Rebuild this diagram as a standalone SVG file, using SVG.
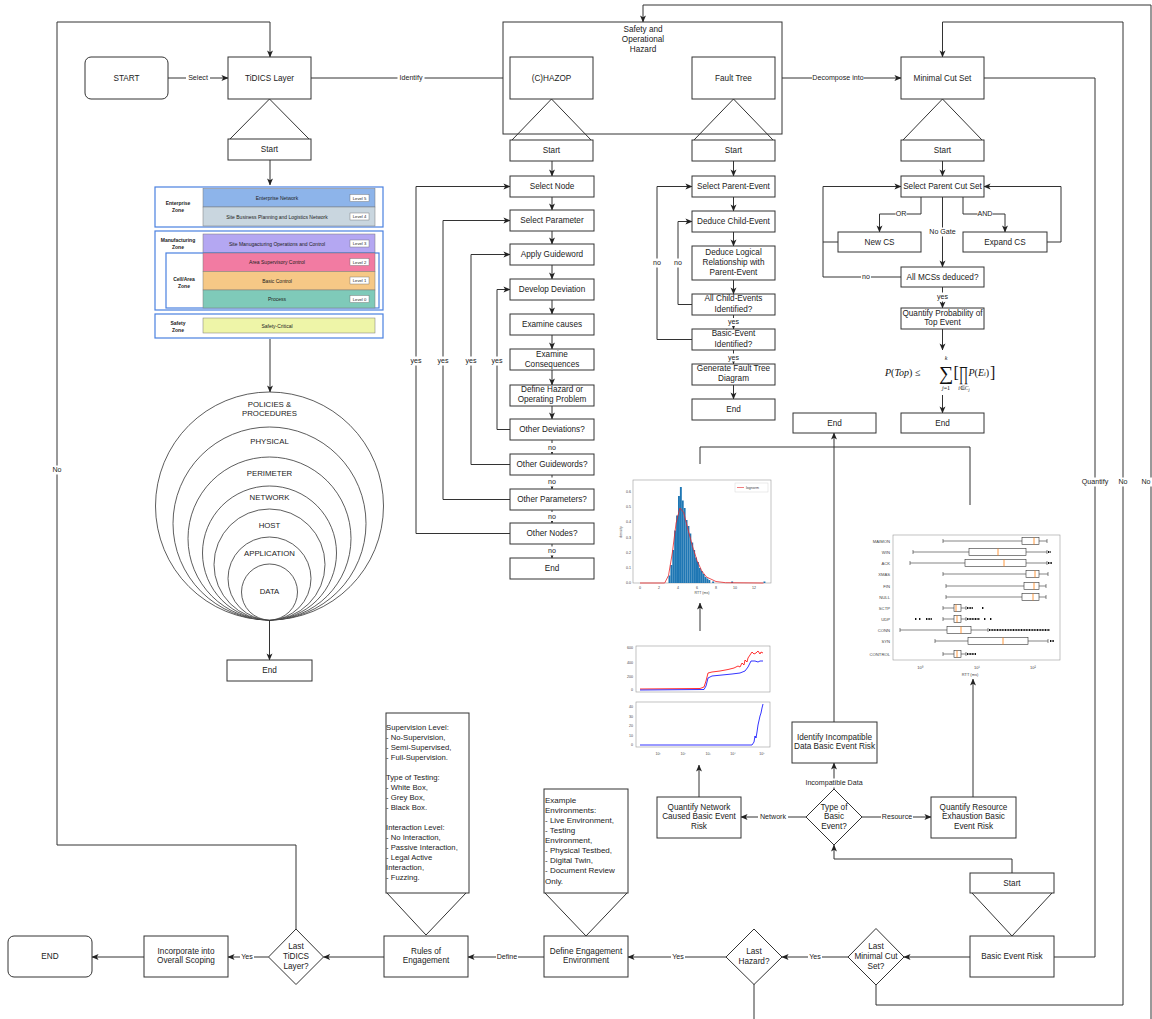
<svg xmlns="http://www.w3.org/2000/svg" width="1152" height="1019" viewBox="0 0 1152 1019">
<defs>
<style>
.b{fill:#fff;stroke:#333;stroke-width:1}
.c{fill:none;stroke:#333;stroke-width:1}
.a{marker-end:url(#ah)}
.t{font-family:"Liberation Sans",Arial,sans-serif;font-size:8.2px;fill:#222;text-anchor:middle;dominant-baseline:central}
.l{font-size:7.1px}
.bg{fill:#fff}
.sm{font-family:"Liberation Sans",Arial,sans-serif;fill:#222;dominant-baseline:central}
.zone{fill:#fff;stroke:#4a80e0;stroke-width:1.2}
.bar{stroke:#777;stroke-width:0.5}
.zl{font-family:"Liberation Sans",Arial,sans-serif;font-size:5px;font-weight:bold;fill:#222;text-anchor:middle;dominant-baseline:central}
.zt{font-family:"Liberation Sans",Arial,sans-serif;font-size:5px;fill:#222;text-anchor:middle;dominant-baseline:central}
.lv{fill:#fff;stroke:#666;stroke-width:0.4}
.ring{fill:#fff;stroke:#333;stroke-width:0.8}
.ax{fill:#fff;stroke:#999;stroke-width:0.6}
.tk{font-family:"Liberation Sans",Arial,sans-serif;font-size:3.6px;fill:#444;dominant-baseline:central}
.hb{fill:#1f77b4}
.wh{stroke:#333;stroke-width:0.6;fill:none}
.bx{fill:#fff;stroke:#333;stroke-width:0.6}
.md{stroke:#ff7f0e;stroke-width:0.8}
.fl{stroke:#111;stroke-width:2;stroke-dasharray:1 0.6}
.mth{font-family:"Liberation Serif","Times New Roman",serif;fill:#111;dominant-baseline:central}
</style>
<marker id="ah" viewBox="0 0 8 8" refX="7.5" refY="4" markerWidth="7" markerHeight="7" markerUnits="userSpaceOnUse" orient="auto">
<path d="M0,0.6 L8,4 L0,7.4 L2,4 z" fill="#222"/>
</marker>
</defs>
<rect width="1152" height="1019" fill="#fff"/>

<!-- connectors -->
<g id="connectors">
<polyline class="c a" points="296,929 296,845 57,845 57,22 270,22 270,57"/>
<line class="c a" x1="168" y1="78" x2="228" y2="78"/>
<line class="c a" x1="311" y1="78" x2="510" y2="78"/>
<line class="c a" x1="270" y1="160" x2="270" y2="185"/>
<line class="c a" x1="270" y1="339" x2="270" y2="392"/>
<line class="c a" x1="269.5" y1="620" x2="269.5" y2="660"/>
<line class="c a" x1="593" y1="78" x2="692" y2="78"/>
<line class="c a" x1="775" y1="78" x2="901" y2="78"/>
<polyline class="c a" points="754,984 754,1030 1151,1030 1151,5 643,5 643,22"/>
<polyline class="c a" points="876,985 876,1005 1123,1005 1123,22 942.5,22 942.5,57"/>
<polyline class="c" points="984,78 1095,78 1095,957 1054,957"/>

<!-- hazop chain -->
<line class="c a" x1="552" y1="161" x2="552" y2="176"/>
<line class="c a" x1="552" y1="197" x2="552" y2="210"/>
<line class="c a" x1="552" y1="231" x2="552" y2="244"/>
<line class="c a" x1="552" y1="265" x2="552" y2="279"/>
<line class="c a" x1="552" y1="300" x2="552" y2="314"/>
<line class="c a" x1="552" y1="335" x2="552" y2="349"/>
<line class="c a" x1="552" y1="370" x2="552" y2="385"/>
<line class="c a" x1="552" y1="406" x2="552" y2="419"/>
<line class="c a" x1="552" y1="440" x2="552" y2="454"/>
<line class="c a" x1="552" y1="475" x2="552" y2="489"/>
<line class="c a" x1="552" y1="510" x2="552" y2="523"/>
<line class="c a" x1="552" y1="544" x2="552" y2="558"/>
<polyline class="c a" points="510,429.5 497,429.5 497,289.5 510,289.5"/>
<polyline class="c a" points="510,464.5 471,464.5 471,254.5 510,254.5"/>
<polyline class="c a" points="510,499.5 443,499.5 443,220.5 510,220.5"/>
<polyline class="c a" points="510,533.5 416,533.5 416,186.5 510,186.5"/>

<!-- fault tree chain -->
<line class="c a" x1="733.5" y1="161" x2="733.5" y2="176"/>
<line class="c a" x1="733.5" y1="197" x2="733.5" y2="211"/>
<line class="c a" x1="733.5" y1="232" x2="733.5" y2="246"/>
<line class="c a" x1="733.5" y1="280" x2="733.5" y2="294"/>
<line class="c a" x1="733.5" y1="315" x2="733.5" y2="329"/>
<line class="c a" x1="733.5" y1="350" x2="733.5" y2="364"/>
<line class="c a" x1="733.5" y1="385" x2="733.5" y2="399"/>
<polyline class="c a" points="692,304.5 678,304.5 678,221.5 692,221.5"/>
<polyline class="c a" points="692,339.5 657,339.5 657,186.5 692,186.5"/>

<!-- minimal cut set chain -->
<line class="c a" x1="942.5" y1="161" x2="942.5" y2="176"/>
<polyline class="c a" points="921,197 921,214 879.5,214 879.5,232"/>
<polyline class="c a" points="963,197 963,214 1005,214 1005,232"/>
<line class="c a" x1="942.5" y1="197" x2="942.5" y2="267"/>
<polyline class="c a" points="1047,242 1061,242 1061,186.5 984,186.5"/>
<polyline class="c" points="838,242 823,242"/>
<polyline class="c a" points="901,277 823,277 823,186.5 901,186.5"/>
<line class="c a" x1="942.5" y1="287" x2="942.5" y2="308"/>
<line class="c a" x1="942.5" y1="329" x2="942.5" y2="350"/>
<line class="c a" x1="942.5" y1="395" x2="942.5" y2="413"/>

<!-- result figures to end -->
<polyline class="c" points="700,464 700,447 970,447 970,505"/>
<line class="c a" x1="834" y1="722" x2="834" y2="433"/>
<line class="c a" x1="700" y1="631" x2="700" y2="603"/>
<line class="c a" x1="699" y1="797" x2="699" y2="765"/>
<line class="c a" x1="973" y1="797" x2="973" y2="679"/>

<!-- basic event risk -->
<line class="c a" x1="834" y1="789" x2="834" y2="763"/>
<line class="c a" x1="806" y1="817" x2="741" y2="817"/>
<line class="c a" x1="862" y1="817" x2="931" y2="817"/>
<polyline class="c a" points="1012,873 1012,859 834,859 834,845"/>
<line class="c a" x1="970" y1="957" x2="904" y2="957"/>
<line class="c a" x1="848" y1="957" x2="782" y2="957"/>
<line class="c a" x1="726" y1="957" x2="628" y2="957"/>
<line class="c a" x1="544" y1="957" x2="468" y2="957"/>
<line class="c a" x1="384" y1="957" x2="323.5" y2="957"/>
<line class="c a" x1="268.5" y1="957" x2="228" y2="957"/>
<line class="c a" x1="144" y1="957" x2="92" y2="957"/>

<!-- connector labels on white backing -->
<g>
<rect class="bg" x="51" y="465.5" width="12" height="9"/>
<rect class="bg" x="186" y="73.5" width="24" height="9"/>
<rect class="bg" x="397.5" y="73.5" width="27" height="9"/>
<rect class="bg" x="628.5" y="73.5" width="27" height="9"/>
<rect class="bg" x="812" y="73.5" width="52" height="9"/>
<rect class="bg" x="1140" y="477.5" width="12" height="9"/>
<rect class="bg" x="1117" y="477.5" width="12" height="9"/>
<rect class="bg" x="1080" y="477.5" width="30" height="9"/>
<rect class="bg" x="490.5" y="356.5" width="13" height="9"/>
<rect class="bg" x="464.5" y="356.5" width="13" height="9"/>
<rect class="bg" x="436.5" y="356.5" width="13" height="9"/>
<rect class="bg" x="409.5" y="356.5" width="13" height="9"/>
<rect class="bg" x="547" y="443" width="10" height="9"/>
<rect class="bg" x="547" y="477.5" width="10" height="9"/>
<rect class="bg" x="547" y="512" width="10" height="9"/>
<rect class="bg" x="547" y="546.5" width="10" height="9"/>
<rect class="bg" x="673" y="258.5" width="10" height="9"/>
<rect class="bg" x="652" y="258.5" width="10" height="9"/>
<rect class="bg" x="727" y="318" width="13" height="8"/>
<rect class="bg" x="727" y="353.5" width="13" height="8"/>
<rect class="bg" x="895.5" y="209.5" width="11" height="9"/>
<rect class="bg" x="977.5" y="209.5" width="15" height="9"/>
<rect class="bg" x="928.5" y="227.5" width="28" height="9"/>
<rect class="bg" x="861" y="272.5" width="10" height="9"/>
<rect class="bg" x="936" y="292.5" width="13" height="9"/>
<rect class="bg" x="804" y="778.5" width="60" height="9"/>
<rect class="bg" x="758" y="812.5" width="30" height="9"/>
<rect class="bg" x="881" y="812.5" width="32" height="9"/>
<rect class="bg" x="808" y="952.5" width="14" height="9"/>
<rect class="bg" x="671" y="952.5" width="14" height="9"/>
<rect class="bg" x="496" y="952.5" width="22" height="9"/>
<rect class="bg" x="240" y="952.5" width="14" height="9"/>
</g>
<text class="t l" x="57" y="470">No</text>
<text class="t l" x="198" y="78">Select</text>
<text class="t l" x="411" y="78">Identify</text>
<text class="t l" x="642" y="78">Deduce</text>
<text class="t l" x="838" y="78">Decompose into</text>
<text class="t l" x="1146" y="482">No</text>
<text class="t l" x="1123" y="482">No</text>
<text class="t l" x="1095" y="482">Quantify</text>
<text class="t l" x="497" y="361">yes</text>
<text class="t l" x="471" y="361">yes</text>
<text class="t l" x="443" y="361">yes</text>
<text class="t l" x="416" y="361">yes</text>
<text class="t l" x="552" y="447.5">no</text>
<text class="t l" x="552" y="482">no</text>
<text class="t l" x="552" y="516.5">no</text>
<text class="t l" x="552" y="551">no</text>
<text class="t l" x="678" y="263">no</text>
<text class="t l" x="657" y="263">no</text>
<text class="t l" x="733.5" y="322">yes</text>
<text class="t l" x="733.5" y="357.5">yes</text>
<text class="t l" x="901" y="214">OR</text>
<text class="t l" x="985" y="214">AND</text>
<text class="t l" x="942.5" y="232">No Gate</text>
<text class="t l" x="866" y="277">no</text>
<text class="t l" x="942.5" y="297">yes</text>
<text class="t l" x="834" y="783">Incompatible Data</text>
<text class="t l" x="773" y="817">Network</text>
<text class="t l" x="897" y="817">Resource</text>
<text class="t l" x="815" y="957">Yes</text>
<text class="t l" x="678" y="957">Yes</text>
<text class="t l" x="507" y="957">Define</text>
<text class="t l" x="247" y="957">Yes</text>
</g>

<!-- scoping entry -->
<g id="start">
<rect class="b" x="85" y="57" width="83" height="42" rx="6"/>
<text class="t" x="126.5" y="78">START</text>
</g>
<g id="tidics-layer">
<rect class="b" x="228" y="57" width="83" height="42"/>
<text class="t" x="269.5" y="78">TiDICS Layer</text>
<polyline class="c" points="230,139 269.5,99 309,139"/>
<rect class="b" x="228" y="139" width="83" height="21"/>
<text class="t" x="269.5" y="149.5">Start</text>
</g>

<!-- zone model -->
<g id="zones">
<rect class="zone" x="155" y="187" width="228" height="40"/>
<text class="zl" x="178" y="203">Enterprise</text>
<text class="zl" x="178" y="209.5">Zone</text>
<rect class="bar" x="203" y="188.5" width="172" height="18.5" fill="#8db4ea"/>
<text class="zt" x="277" y="198">Enterprise Network</text>
<rect class="lv" x="350" y="194.5" width="19" height="7"/>
<text class="zt" x="359.5" y="198" style="font-size:4.2px">Level 5</text>
<rect class="bar" x="203" y="207" width="172" height="19" fill="#c9d6df"/>
<text class="zt" x="277" y="216.5">Site Business Planning and Logistics Network</text>
<rect class="lv" x="350" y="213" width="19" height="7"/>
<text class="zt" x="359.5" y="216.5" style="font-size:4.2px">Level 4</text>

<rect class="zone" x="155" y="231" width="228" height="79"/>
<text class="zl" x="178" y="240">Manufacturing</text>
<text class="zl" x="178" y="246.5">Zone</text>
<rect class="bar" x="203" y="234" width="172" height="19" fill="#b4a7f2"/>
<text class="zt" x="277" y="243.5">Site Manugacturing Operations and Control</text>
<rect class="lv" x="350" y="240" width="19" height="7"/>
<text class="zt" x="359.5" y="243.5" style="font-size:4.2px">Level 3</text>
<rect class="zone" x="166" y="253" width="213" height="55" fill="none"/>
<text class="zl" x="184" y="279">Cell/Area</text>
<text class="zl" x="184" y="285.5">Zone</text>
<rect class="bar" x="203" y="253" width="172" height="18.5" fill="#f27ba2"/>
<text class="zt" x="277" y="262">Area Supervisory Control</text>
<rect class="lv" x="350" y="258.5" width="19" height="7"/>
<text class="zt" x="359.5" y="262" style="font-size:4.2px">Level 2</text>
<rect class="bar" x="203" y="271.5" width="172" height="18.5" fill="#f6c886"/>
<text class="zt" x="277" y="280.5">Basic Control</text>
<rect class="lv" x="350" y="277" width="19" height="7"/>
<text class="zt" x="359.5" y="280.5" style="font-size:4.2px">Level 1</text>
<rect class="bar" x="203" y="290" width="172" height="18" fill="#7fcab9"/>
<text class="zt" x="277" y="299">Process</text>
<rect class="lv" x="350" y="295.5" width="19" height="7"/>
<text class="zt" x="359.5" y="299" style="font-size:4.2px">Level 0</text>

<rect class="zone" x="155" y="314" width="228" height="24"/>
<text class="zl" x="178" y="323">Safety</text>
<text class="zl" x="178" y="329.5">Zone</text>
<rect class="bar" x="203" y="318" width="172" height="15" fill="#eef5a8"/>
<text class="zt" x="277" y="325.5">Safety-Critical</text>
</g>

<!-- defence in depth rings, all touching at the bottom -->
<g id="defence-rings">
<circle class="ring" cx="269.5" cy="506" r="114"/>
<circle class="ring" cx="269.5" cy="523.5" r="96.5"/>
<circle class="ring" cx="269.5" cy="538.5" r="81.5"/>
<circle class="ring" cx="269.5" cy="553" r="67"/>
<circle class="ring" cx="269.5" cy="564.5" r="55.5"/>
<circle class="ring" cx="269.5" cy="578.5" r="41.5"/>
<circle class="ring" cx="269.5" cy="592" r="28"/>
<text class="t" x="269.5" y="404" style="font-size:7.8px">POLICIES &amp;</text>
<text class="t" x="269.5" y="413.5" style="font-size:7.8px">PROCEDURES</text>
<text class="t" x="269.5" y="441" style="font-size:7.8px">PHYSICAL</text>
<text class="t" x="269.5" y="473" style="font-size:7.8px">PERIMETER</text>
<text class="t" x="269.5" y="497" style="font-size:7.8px">NETWORK</text>
<text class="t" x="269.5" y="525" style="font-size:7.8px">HOST</text>
<text class="t" x="269.5" y="553" style="font-size:7.8px">APPLICATION</text>
<text class="t" x="269.5" y="591" style="font-size:7.8px">DATA</text>
</g>
<g id="tidics-end">
<rect class="b" x="227" y="660" width="85" height="21"/>
<text class="t" x="269.5" y="670.5">End</text>
</g>

<!-- safety and operational hazard -->
<g id="hazard-container">
<rect class="b" x="503" y="22" width="279" height="112" fill="none"/>
<text class="t" x="643" y="29">Safety and</text>
<text class="t" x="643" y="39">Operational</text>
<text class="t" x="643" y="49">Hazard</text>
</g>
<g id="hazop">
<rect class="b" x="510" y="57" width="83" height="42"/>
<text class="t" x="551.5" y="78">(C)HAZOP</text>
<polyline class="c" points="512,140 551.5,99 591,140"/>
<rect class="b" x="510" y="140" width="83" height="21"/>
<text class="t" x="551.5" y="150.5">Start</text>
</g>
<g id="hazop-steps">
<rect class="b" x="510" y="176" width="84" height="21"/><text class="t" x="552" y="186.5">Select Node</text>
<rect class="b" x="510" y="210" width="84" height="21"/><text class="t" x="552" y="220.5">Select Parameter</text>
<rect class="b" x="510" y="244" width="84" height="21"/><text class="t" x="552" y="254.5">Apply Guideword</text>
<rect class="b" x="510" y="279" width="84" height="21"/><text class="t" x="552" y="289.5">Develop Deviation</text>
<rect class="b" x="510" y="314" width="84" height="21"/><text class="t" x="552" y="324.5">Examine causes</text>
<rect class="b" x="510" y="349" width="84" height="21"/><text class="t" x="552" y="354.5">Examine</text><text class="t" x="552" y="364">Consequences</text>
<rect class="b" x="510" y="385" width="84" height="21"/><text class="t" x="552" y="389">Define Hazard or</text><text class="t" x="552" y="399">Operating Problem</text>
<rect class="b" x="510" y="419" width="84" height="21"/><text class="t" x="552" y="429.5">Other Deviations?</text>
<rect class="b" x="510" y="454" width="84" height="21"/><text class="t" x="552" y="464.5">Other Guidewords?</text>
<rect class="b" x="510" y="489" width="84" height="21"/><text class="t" x="552" y="499.5">Other Parameters?</text>
<rect class="b" x="510" y="523" width="84" height="21"/><text class="t" x="552" y="533.5">Other Nodes?</text>
<rect class="b" x="510" y="558" width="84" height="21"/><text class="t" x="552" y="568.5">End</text>
</g>

<g id="fault-tree">
<rect class="b" x="692" y="57" width="83" height="42"/>
<text class="t" x="733.5" y="78">Fault Tree</text>
<polyline class="c" points="694,140 733.5,99 773,140"/>
<rect class="b" x="692" y="140" width="83" height="21"/>
<text class="t" x="733.5" y="150.5">Start</text>
</g>
<g id="fault-tree-steps">
<rect class="b" x="692" y="176" width="83" height="21"/><text class="t" x="733.5" y="186.5">Select Parent-Event</text>
<rect class="b" x="692" y="211" width="83" height="21"/><text class="t" x="733.5" y="221.5">Deduce Child-Event</text>
<rect class="b" x="692" y="246" width="83" height="34"/><text class="t" x="733.5" y="252.5">Deduce Logical</text><text class="t" x="733.5" y="262.5">Relationship with</text><text class="t" x="733.5" y="272">Parent-Event</text>
<rect class="b" x="692" y="294" width="83" height="21"/><text class="t" x="733.5" y="298.5">All Child-Events</text><text class="t" x="733.5" y="309">Identified?</text>
<rect class="b" x="692" y="329" width="83" height="21"/><text class="t" x="733.5" y="333.5">Basic-Event</text><text class="t" x="733.5" y="344">Identified?</text>
<rect class="b" x="692" y="364" width="83" height="21"/><text class="t" x="733.5" y="368.5">Generate Fault Tree</text><text class="t" x="733.5" y="378">Diagram</text>
<rect class="b" x="692" y="399" width="83" height="21"/><text class="t" x="733.5" y="409.5">End</text>
</g>

<g id="minimal-cut-set">
<rect class="b" x="901" y="57" width="83" height="42"/>
<text class="t" x="942.5" y="78">Minimal Cut Set</text>
<polyline class="c" points="903,140 942.5,99 982,140"/>
<rect class="b" x="901" y="140" width="83" height="21"/>
<text class="t" x="942.5" y="150.5">Start</text>
</g>
<g id="mcs-steps">
<rect class="b" x="901" y="176" width="83" height="21"/><text class="t" x="942.5" y="186.5">Select Parent Cut Set</text>
<rect class="b" x="838" y="232" width="83" height="20"/><text class="t" x="879.5" y="242">New CS</text>
<rect class="b" x="963" y="232" width="84" height="20"/><text class="t" x="1005" y="242">Expand CS</text>
<rect class="b" x="901" y="267" width="83" height="20"/><text class="t" x="942.5" y="277">All MCSs deduced?</text>
<rect class="b" x="901" y="308" width="83" height="21"/><text class="t" x="942.5" y="313">Quantify Probability of</text><text class="t" x="942.5" y="322.5">Top Event</text>
<rect class="b" x="901" y="413" width="83" height="20"/><text class="t" x="942.5" y="423">End</text>
</g>
<g id="top-event-formula">
<text class="mth" x="885" y="372" style="font-size:10px"><tspan font-style="italic">P</tspan>(<tspan font-style="italic">Top</tspan>) ≤</text>
<text class="mth" x="939" y="373" style="font-size:20px">∑</text>
<text class="mth" x="946" y="358" style="font-size:6px;text-anchor:middle" font-style="italic">k</text>
<text class="mth" x="946" y="388" style="font-size:6px;text-anchor:middle"><tspan font-style="italic">j</tspan>=1</text>
<text class="mth" x="953.5" y="372" style="font-size:16px">[</text>
<text class="mth" transform="translate(959 373) scale(0.55 1)" style="font-size:20px">∏</text>
<text class="mth" x="964" y="388" style="font-size:5.5px;text-anchor:middle"><tspan font-style="italic">i</tspan>∈<tspan font-style="italic">C</tspan><tspan font-style="italic" style="font-size:4px" dy="1">j</tspan></text>
<text class="mth" x="968.5" y="372" style="font-size:10px"><tspan font-style="italic">P</tspan>(<tspan font-style="italic">E</tspan><tspan font-style="italic" style="font-size:6px" dy="2">i</tspan><tspan dy="-2">)</tspan></text>
<text class="mth" x="990" y="372" style="font-size:16px">]</text>
</g>
<g id="risk-end">
<rect class="b" x="793" y="413" width="83" height="20"/><text class="t" x="834.5" y="423">End</text>
</g>

<!-- RTT density with lognormal fit -->
<g id="rtt-histogram">
<rect class="ax" x="633" y="480" width="138" height="103"/>
<g>
<rect class="hb" x="668.5" y="575.5" width="1.9" height="7.5"/>
<rect class="hb" x="670.4" y="565" width="1.9" height="18"/>
<rect class="hb" x="672.3" y="550" width="1.9" height="33"/>
<rect class="hb" x="674.2" y="530.5" width="1.9" height="52.5"/>
<rect class="hb" x="676.1" y="515.5" width="1.9" height="67.5"/>
<rect class="hb" x="678.0" y="496" width="1.9" height="87"/>
<rect class="hb" x="679.9" y="487" width="1.9" height="96"/>
<rect class="hb" x="681.8" y="500.5" width="1.9" height="82.5"/>
<rect class="hb" x="683.7" y="508" width="1.9" height="75"/>
<rect class="hb" x="685.6" y="520" width="1.9" height="63"/>
<rect class="hb" x="687.5" y="526" width="1.9" height="57"/>
<rect class="hb" x="689.4" y="533.5" width="1.9" height="49.5"/>
<rect class="hb" x="691.3" y="542.5" width="1.9" height="40.5"/>
<rect class="hb" x="693.2" y="550" width="1.9" height="33"/>
<rect class="hb" x="695.1" y="557.5" width="1.9" height="25.5"/>
<rect class="hb" x="697.0" y="562" width="1.9" height="21"/>
<rect class="hb" x="698.9" y="568" width="1.9" height="15"/>
<rect class="hb" x="700.8" y="571" width="1.9" height="12"/>
<rect class="hb" x="702.7" y="574" width="1.9" height="9"/>
<rect class="hb" x="704.6" y="577" width="1.9" height="6"/>
<rect class="hb" x="706.5" y="578.5" width="1.9" height="4.5"/>
<rect class="hb" x="708.4" y="580" width="1.9" height="3"/>
<rect class="hb" x="712.2" y="581.5" width="1.9" height="1.5"/>
<rect class="hb" x="731.2" y="581.5" width="1.9" height="1.5"/>
<rect class="hb" x="763.5" y="581.5" width="1.9" height="1.5"/>
</g>
<path d="M640,583 L664.7,583 L668.5,575.5 L672.3,553 L676.1,523 L679.9,508 L683.7,512.5 L687.5,527.5 L692.3,545.5 L697,560.5 L701.8,571 L706.5,577 L716,581.5 L725.5,582.7 L763.5,583" fill="none" stroke="#e8262a" stroke-width="0.8"/>
<rect x="735" y="483" width="33" height="9" fill="#fff" stroke="#ccc" stroke-width="0.4"/>
<line x1="737" y1="487.5" x2="744" y2="487.5" stroke="#e8262a" stroke-width="0.6"/>
<text class="tk" x="746" y="487.5">lognorm</text>
<g class="tk" style="text-anchor:end">
<text x="631" y="583">0.0</text><text x="631" y="568">0.1</text><text x="631" y="553">0.2</text><text x="631" y="538">0.3</text><text x="631" y="522">0.4</text><text x="631" y="507">0.5</text><text x="631" y="492">0.6</text>
</g>
<g class="tk" style="text-anchor:middle">
<text x="640" y="587.5">0</text><text x="659" y="587.5">2</text><text x="678" y="587.5">4</text><text x="697" y="587.5">6</text><text x="716" y="587.5">8</text><text x="735" y="587.5">10</text><text x="754" y="587.5">12</text>
<text x="702" y="593">RTT (ms)</text>
<text transform="translate(621 532) rotate(-90)">density</text>
</g>
</g>

<!-- cumulative traffic plots -->
<g id="traffic-plots">
<rect class="ax" x="636" y="646" width="134" height="46"/>
<path d="M640,689 L700,688.5 L704,687 L706,681 L708,673 L712,672 L720,671 L728,669.5 L734,668 L738,666 L740,667 L742,663 L744,665 L745,660 L747,662 L748,658 L750,655 L752,652 L754,654 L756,653 L758,651 L760,654 L761,652 L763,653" fill="none" stroke="#f00" stroke-width="0.8"/>
<path d="M640,690 L704,689.5 L706,686 L708,678 L712,676 L722,675 L732,674 L740,673 L745,671 L748,667 L751,661 L755,661 L758,662 L760,661 L763,661" fill="none" stroke="#00f" stroke-width="0.8"/>
<g class="tk" style="text-anchor:end">
<text x="633" y="690">0</text><text x="633" y="677">200</text><text x="633" y="663">400</text><text x="633" y="648">600</text>
</g>
<rect class="ax" x="636" y="702" width="134" height="45"/>
<path d="M640,745 L752,745 L754,742 L755,736 L756,738 L757,732 L758,725 L760,716 L761,713 L762,708 L763,704" fill="none" stroke="#00f" stroke-width="0.8"/>
<g class="tk" style="text-anchor:end">
<text x="633" y="745">0</text><text x="633" y="736">10</text><text x="633" y="726">20</text><text x="633" y="717">30</text><text x="633" y="707">40</text>
</g>
<g class="tk" style="text-anchor:middle">
<text x="658" y="754">10¹</text><text x="683" y="754">10²</text><text x="708" y="754">10³</text><text x="733" y="754">10⁴</text><text x="762" y="754">10⁵</text>
</g>
</g>

<!-- RTT per scan type -->
<g id="rtt-boxplot">
<rect class="ax" x="893" y="535" width="167" height="125"/>
<g class="tk" style="text-anchor:end;font-size:4.2px">
<text x="890" y="541">MAIMON</text><text x="890" y="552">WIN</text><text x="890" y="563">ACK</text><text x="890" y="574">XMAS</text><text x="890" y="586">FIN</text><text x="890" y="597">NULL</text><text x="890" y="608">SCTP</text><text x="890" y="619">UDP</text><text x="890" y="630">CONN</text><text x="890" y="641">SYN</text><text x="890" y="654">CONTROL</text>
</g>
<path class="wh" d="M943,541 H1047 M913,552 H1047 M910,563 H1047 M943,574 H1048 M946,586 H1046 M946,597 H1046 M943,608 H966 M943,619 H966 M900,630 H988 M935,641 H1048 M943,654 H966"/>
<path class="wh" d="M943,539 V543 M1047,539 V543 M913,550 V554 M1047,550 V554 M910,561 V565 M1047,561 V565 M943,572 V576 M1048,572 V576 M946,584 V588 M1046,584 V588 M946,595 V599 M1046,595 V599 M943,606 V610 M966,606 V610 M943,617 V621 M966,617 V621 M900,628 V632 M988,628 V632 M935,639 V643 M1048,639 V643 M943,652 V656 M966,652 V656"/>
<rect class="bx" x="1022" y="537.5" width="17" height="7"/>
<rect class="bx" x="969" y="548.5" width="57" height="7"/>
<rect class="bx" x="965" y="559.5" width="61" height="7"/>
<rect class="bx" x="1026" y="570.5" width="13" height="7"/>
<rect class="bx" x="1024" y="582.5" width="15" height="7"/>
<rect class="bx" x="1022" y="593.5" width="17" height="7"/>
<rect class="bx" x="954" y="604.5" width="7" height="7"/>
<rect class="bx" x="954" y="615.5" width="7" height="7"/>
<rect class="bx" x="947" y="626.5" width="24" height="7"/>
<rect class="bx" x="968" y="637.5" width="60" height="7"/>
<rect class="bx" x="954" y="650.5" width="7" height="7"/>
<path class="md" d="M1034,537.5 V544.5 M998,548.5 V555.5 M1004,559.5 V566.5 M1035,570.5 V577.5 M1034,582.5 V589.5 M1033,593.5 V600.5 M956,604.5 V611.5 M957,615.5 V622.5 M961,626.5 V633.5 M1003,637.5 V644.5 M957,650.5 V657.5"/>
<path class="fl" d="M1048,552 H1051 M1048,563 H1052 M967,608 H973 M982,608 H984 M915,619 H917 M919,619 H921 M926,619 H932 M967,619 H980 M984,619 H986 M990,619 H992 M989,630 H1050 M1050,641 H1054 M967,654 H976"/>
<g class="tk" style="text-anchor:middle;font-size:4px">
<text x="920" y="667">10⁰</text><text x="977" y="667">10¹</text><text x="1033" y="667">10²</text>
<text x="970" y="674">RTT (ms)</text>
</g>
</g>

<!-- basic event risk quantification -->
<g id="identify-incompatible">
<rect class="b" x="792" y="722" width="85" height="41"/>
<text class="t" x="834.5" y="737">Identify Incompatible</text>
<text class="t" x="834.5" y="746.5">Data Basic Event Risk</text>
</g>
<g id="quantify-network">
<rect class="b" x="657" y="797" width="84" height="41"/>
<text class="t" x="699" y="807">Quantify Network</text>
<text class="t" x="699" y="816.5">Caused Basic Event</text>
<text class="t" x="699" y="826">Risk</text>
</g>
<g id="type-of-basic-event">
<polygon class="b" points="834,789 862,817 834,845 806,817"/>
<text class="t" x="834" y="807">Type of</text>
<text class="t" x="834" y="816.5">Basic</text>
<text class="t" x="834" y="826">Event?</text>
</g>
<g id="quantify-resource">
<rect class="b" x="931" y="797" width="85" height="41"/>
<text class="t" x="973.5" y="807">Quantify Resource</text>
<text class="t" x="973.5" y="816.5">Exhaustion Basic</text>
<text class="t" x="973.5" y="826">Event Risk</text>
</g>
<g id="basic-event-risk">
<rect class="b" x="970" y="873" width="84" height="20"/>
<text class="t" x="1012" y="883">Start</text>
<polyline class="c" points="972,893 1012,936 1052,893"/>
<rect class="b" x="970" y="936" width="84" height="41"/>
<text class="t" x="1012" y="956.5">Basic Event Risk</text>
</g>
<g id="last-minimal-cut-set">
<polygon class="b" points="876,928.5 904,957 876,985 848,957"/>
<text class="t" x="876" y="946">Last</text>
<text class="t" x="876" y="956">Minimal Cut</text>
<text class="t" x="876" y="966">Set?</text>
</g>
<g id="last-hazard">
<polygon class="b" points="754,929 782,957 754,984.5 726,957"/>
<text class="t" x="754" y="951">Last</text>
<text class="t" x="754" y="961">Hazard?</text>
</g>

<!-- engagement -->
<g id="define-environment">
<rect class="b" x="544" y="789" width="84" height="104"/>
<g class="sm" style="font-size:8px">
<text x="545" y="800">Example</text>
<text x="545" y="810">Environments:</text>
<text x="545" y="820.5">- Live Environment,</text>
<text x="545" y="830.5">- Testing</text>
<text x="545" y="840.5">Environment,</text>
<text x="545" y="850.5">- Physical Testbed,</text>
<text x="545" y="860.5">- Digital Twin,</text>
<text x="545" y="870.5">- Document Review</text>
<text x="545" y="881">Only.</text>
</g>
<polyline class="c" points="545,893 586,936 627,893"/>
<rect class="b" x="544" y="936" width="84" height="41"/>
<text class="t" x="586" y="951">Define Engagement</text>
<text class="t" x="586" y="960.5">Environment</text>
</g>
<g id="rules-of-engagement">
<rect class="b" x="386" y="713" width="83" height="180"/>
<g class="sm" style="font-size:7.7px">
<text x="386" y="727">Supervision Level:</text>
<text x="386" y="737">- No-Supervision,</text>
<text x="386" y="747">- Semi-Supervised,</text>
<text x="386" y="757">- Full-Supervision.</text>
<text x="386" y="777">Type of Testing:</text>
<text x="386" y="787">- White Box,</text>
<text x="386" y="797">- Grey Box,</text>
<text x="386" y="807">- Black Box.</text>
<text x="386" y="827">Interaction Level:</text>
<text x="386" y="837">- No Interaction,</text>
<text x="386" y="847">- Passive Interaction,</text>
<text x="386" y="857">- Legal Active</text>
<text x="386" y="867">Interaction,</text>
<text x="386" y="877">- Fuzzing.</text>
</g>
<polyline class="c" points="387,893 426,935 466,893"/>
<rect class="b" x="384" y="936" width="84" height="41"/>
<text class="t" x="426" y="951">Rules of</text>
<text class="t" x="426" y="960.5">Engagement</text>
</g>
<g id="last-tidics-layer">
<polygon class="b" points="296,929 323.5,957 296,984.5 268.5,957"/>
<text class="t" x="296" y="946">Last</text>
<text class="t" x="296" y="956">TiDICS</text>
<text class="t" x="296" y="966">Layer?</text>
</g>
<g id="incorporate">
<rect class="b" x="144" y="936" width="84" height="41"/>
<text class="t" x="186" y="951">Incorporate into</text>
<text class="t" x="186" y="960.5">Overall Scoping</text>
</g>
<g id="end">
<rect class="b" x="8" y="936" width="84" height="41" rx="6"/>
<text class="t" x="50" y="956.5">END</text>
</g>
</svg>
